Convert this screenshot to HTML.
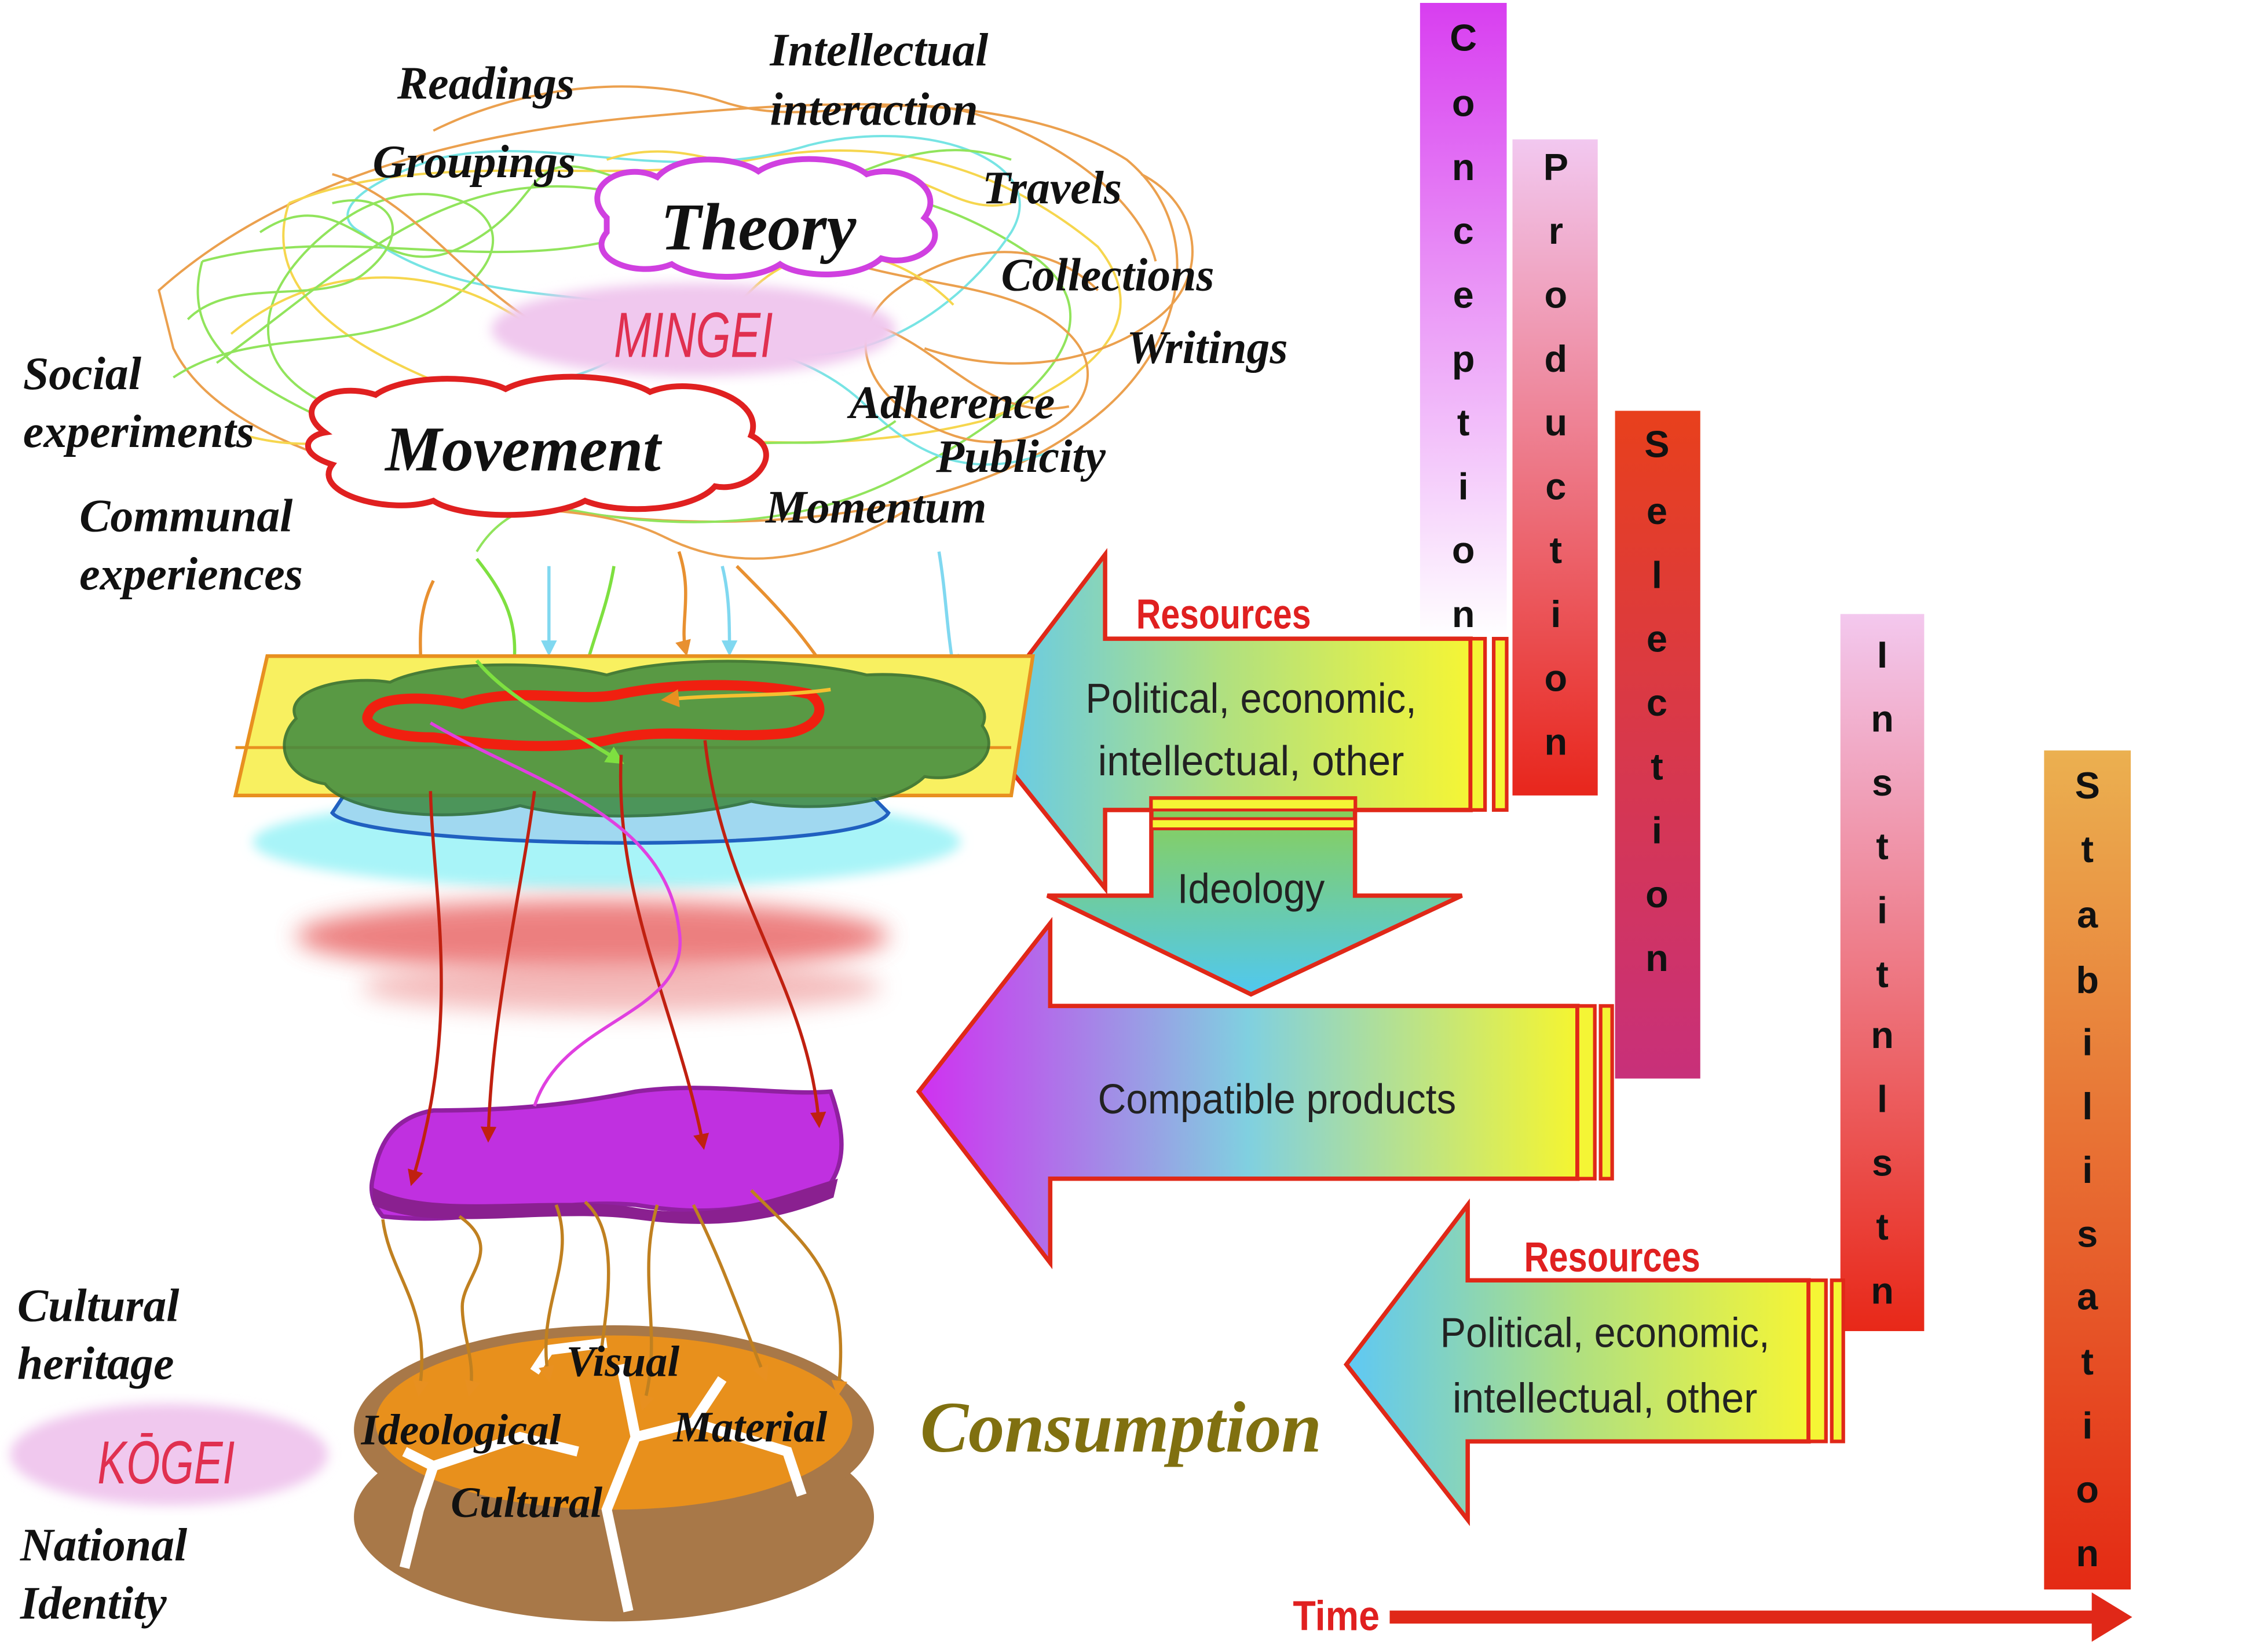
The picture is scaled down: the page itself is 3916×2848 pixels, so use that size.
<!DOCTYPE html>
<html><head><meta charset="utf-8"><style>
html,body{margin:0;padding:0;background:#fff;}
svg{display:block;}
.hw{font-family:"Liberation Serif",serif;font-style:italic;font-weight:bold;fill:#111;}
.vl{font-family:"Liberation Sans",sans-serif;font-weight:bold;font-size:26px;fill:#111;text-anchor:middle;}
.ar{font-family:"Liberation Sans",sans-serif;font-size:29px;fill:#222;text-anchor:middle;}
.rs{font-family:"Liberation Sans",sans-serif;font-weight:bold;font-size:29px;fill:#e02020;text-anchor:middle;}
</style></head><body>
<svg width="3916" height="2848" viewBox="0 0 1570 1136" preserveAspectRatio="none" xmlns="http://www.w3.org/2000/svg">
<defs>
<linearGradient id="gC" x1="0" y1="0" x2="0" y2="1"><stop offset="0" stop-color="#d83ef0"/><stop offset="1" stop-color="#fff"/></linearGradient>
<linearGradient id="gP" x1="0" y1="0" x2="0" y2="1"><stop offset="0" stop-color="#f2c8f0"/><stop offset="1" stop-color="#e8261c"/></linearGradient>
<linearGradient id="gS" x1="0" y1="0" x2="0" y2="1"><stop offset="0" stop-color="#e8401c"/><stop offset="1" stop-color="#c8307a"/></linearGradient>
<linearGradient id="gI" x1="0" y1="0" x2="0" y2="1"><stop offset="0" stop-color="#f3c8ee"/><stop offset="1" stop-color="#e82818"/></linearGradient>
<linearGradient id="gT" x1="0" y1="0" x2="0" y2="1"><stop offset="0" stop-color="#ebb050"/><stop offset="1" stop-color="#e42a14"/></linearGradient>
<linearGradient id="gR" x1="0" y1="0" x2="1" y2="0"><stop offset="0" stop-color="#5ec8f5"/><stop offset="0.5" stop-color="#b0e080"/><stop offset="1" stop-color="#f5f535"/></linearGradient>
<linearGradient id="gId" x1="0" y1="0" x2="0" y2="1"><stop offset="0" stop-color="#8cd050"/><stop offset="1" stop-color="#50c8f0"/></linearGradient>
<linearGradient id="gCP" x1="0" y1="0" x2="1" y2="0"><stop offset="0" stop-color="#d030f0"/><stop offset="0.5" stop-color="#80d0e0"/><stop offset="1" stop-color="#f5f530"/></linearGradient>
<filter id="bl" x="-20%" y="-50%" width="140%" height="200%"><feGaussianBlur stdDeviation="8"/></filter>
<filter id="bl2"><feGaussianBlur stdDeviation="4"/></filter>
<marker id="ma" viewBox="0 0 10 10" refX="8" refY="5" markerWidth="5" markerHeight="5" orient="auto"><path d="M0 0L10 5L0 10z" fill="context-stroke"/></marker>
<marker id="mr" viewBox="0 0 10 10" refX="8" refY="5" markerWidth="5" markerHeight="5" orient="auto"><path d="M0 0L10 5L0 10z" fill="#c02010"/></marker>
<marker id="mo" viewBox="0 0 10 10" refX="8" refY="5" markerWidth="5" markerHeight="5" orient="auto"><path d="M0 0L10 5L0 10z" fill="#e89020"/></marker>
</defs>

<rect x="983" y="2" width="60" height="438" fill="url(#gC)"/>
<rect x="1047" y="96" width="59" height="452" fill="url(#gP)"/>
<rect x="1118" y="283" width="59" height="460" fill="url(#gS)"/>
<rect x="1274" y="423" width="58" height="494" fill="url(#gI)"/>
<rect x="1415" y="517" width="60" height="578" fill="url(#gT)"/>
<g class="vl">
<text x="1013" y="35">C</text><text x="1013" y="80">o</text><text x="1013" y="124">n</text><text x="1013" y="168">c</text><text x="1013" y="212">e</text><text x="1013" y="256">p</text><text x="1013" y="300">t</text><text x="1013" y="344">i</text><text x="1013" y="388">o</text><text x="1013" y="432">n</text>
<text x="1077" y="124">P</text><text x="1077" y="168">r</text><text x="1077" y="212">o</text><text x="1077" y="256">d</text><text x="1077" y="300">u</text><text x="1077" y="344">c</text><text x="1077" y="388">t</text><text x="1077" y="432">i</text><text x="1077" y="476">o</text><text x="1077" y="520">n</text>
<text x="1147" y="315">S</text><text x="1147" y="361">e</text><text x="1147" y="405">l</text><text x="1147" y="449">e</text><text x="1147" y="493">c</text><text x="1147" y="537">t</text><text x="1147" y="581">i</text><text x="1147" y="625">o</text><text x="1147" y="669">n</text>
<text x="1303" y="460">I</text><text x="1303" y="504">n</text><text x="1303" y="548">s</text><text x="1303" y="592">t</text><text x="1303" y="636">i</text><text x="1303" y="680">t</text><text x="1303" y="722">n</text><text x="1303" y="766">l</text><text x="1303" y="810">s</text><text x="1303" y="854">t</text><text x="1303" y="898">n</text>
<text x="1445" y="550">S</text><text x="1445" y="594">t</text><text x="1445" y="639">a</text><text x="1445" y="684">b</text><text x="1445" y="727">i</text><text x="1445" y="771">l</text><text x="1445" y="815">i</text><text x="1445" y="859">s</text><text x="1445" y="902">a</text><text x="1445" y="947">t</text><text x="1445" y="991">i</text><text x="1445" y="1035">o</text><text x="1445" y="1079">n</text>
</g>

<text x="925" y="1123" class="rs" textLength="60" lengthAdjust="spacingAndGlyphs">Time</text>
<path d="M962 1114 H1450" stroke="#e02818" stroke-width="9"/>
<path d="M1448 1097 L1476 1114 L1448 1131z" fill="#e02818"/>

<path d="M675 500 L765 382 L765 440 L1018 440 L1018 558 L765 558 L765 612 Z" fill="url(#gR)" stroke="#e02818" stroke-width="3"/>
<rect x="1018" y="440" width="10" height="118" fill="#f5f535" stroke="#e02818" stroke-width="2.5"/>
<rect x="1034" y="440" width="9" height="118" fill="#f5f535" stroke="#e02818" stroke-width="2.5"/>
<text x="847" y="433" class="rs" textLength="121" lengthAdjust="spacingAndGlyphs">Resources</text>
<text x="866" y="491" class="ar" textLength="229" lengthAdjust="spacingAndGlyphs">Political, economic,</text>
<text x="866" y="534" class="ar" textLength="212" lengthAdjust="spacingAndGlyphs">intellectual, other</text>

<path d="M797 550 L938 550 L938 617 L1012 617 L866 685 L725 617 L797 617 Z" fill="url(#gId)" stroke="#e02818" stroke-width="3"/>
<rect x="797" y="550" width="141" height="8" fill="#f5f535" stroke="#e02818" stroke-width="2"/>
<rect x="797" y="564" width="141" height="7" fill="#f5f535" stroke="#e02818" stroke-width="2"/>
<text x="866" y="622" class="ar" textLength="102" lengthAdjust="spacingAndGlyphs">Ideology</text>

<path d="M636 752 L727 636 L727 693 L1092 693 L1092 812 L727 812 L727 870 Z" fill="url(#gCP)" stroke="#e02818" stroke-width="3"/>
<rect x="1092" y="693" width="12" height="119" fill="#f5f535" stroke="#e02818" stroke-width="2.5"/>
<rect x="1108" y="693" width="8" height="119" fill="#f5f535" stroke="#e02818" stroke-width="2.5"/>
<text x="884" y="767" class="ar" textLength="248" lengthAdjust="spacingAndGlyphs">Compatible products</text>

<path d="M932 940 L1016 830 L1016 882 L1252 882 L1252 993 L1016 993 L1016 1047 Z" fill="url(#gR)" stroke="#e02818" stroke-width="3"/>
<rect x="1252" y="882" width="12" height="111" fill="#f5f535" stroke="#e02818" stroke-width="2.5"/>
<rect x="1268" y="882" width="8" height="111" fill="#f5f535" stroke="#e02818" stroke-width="2.5"/>
<text x="1116" y="876" class="rs" textLength="122" lengthAdjust="spacingAndGlyphs">Resources</text>
<text x="1111" y="928" class="ar" textLength="228" lengthAdjust="spacingAndGlyphs">Political, economic,</text>
<text x="1111" y="973" class="ar" textLength="211" lengthAdjust="spacingAndGlyphs">intellectual, other</text>

<g fill="none" stroke-width="1.6" opacity="0.85">
<path d="M110 200 C200 120 330 90 450 80 C560 70 700 60 780 110 C840 160 820 250 740 300 C650 360 500 370 380 350 C250 330 150 300 120 240 Z" stroke="#e89030"/>
<path d="M140 180 C250 150 360 200 470 150 C560 110 650 130 720 180 C780 230 700 290 620 330 C520 380 380 360 300 320 C200 280 120 250 140 180" stroke="#7ee040"/>
<path d="M200 140 C300 100 420 130 520 110 C620 90 700 120 760 170 C800 220 760 260 680 290 C560 320 420 300 320 270 C240 240 180 200 200 140" stroke="#f5d030"/>
<path d="M250 160 C330 220 420 190 500 230 C580 270 660 220 700 160 C730 110 640 80 560 100 C460 130 380 90 300 110 C240 130 230 150 250 160" stroke="#60e0e0"/>
<path d="M120 260 C180 220 260 250 320 200 C380 150 300 110 240 150 C180 190 160 250 230 280 C300 310 380 280 430 320" stroke="#7ee040"/>
<path d="M560 170 C620 200 700 190 740 230 C780 270 720 320 660 300 C600 280 580 230 620 200 C660 170 720 160 760 200" stroke="#e89030"/>
<path d="M300 90 C360 60 440 50 500 70 C560 90 620 60 680 80 C740 100 790 140 800 180" stroke="#e89030"/>
<path d="M160 230 C220 180 300 180 360 220 C420 260 480 240 520 200 C560 160 620 170 660 210" stroke="#f5d030"/>
<path d="M220 300 C280 260 360 280 420 250 C480 220 560 240 600 280 C640 320 680 330 730 310" stroke="#60e0e0"/>
<path d="M180 160 C240 120 260 200 320 170 C380 140 360 100 420 120 C480 140 470 190 540 180" stroke="#7ee040"/>
<path d="M640 240 C700 260 760 250 800 220 C840 190 830 140 790 120" stroke="#e89030"/>
<path d="M250 330 C320 360 400 340 460 370 C520 400 580 380 630 350" stroke="#e89030"/>
<path d="M330 380 C360 330 420 350 470 320 C520 290 580 320 620 290" stroke="#7ee040"/>
<path d="M130 220 C160 190 220 210 250 190 C290 160 270 130 230 140" stroke="#7ee040"/>
<path d="M420 110 C480 90 520 130 580 120 C640 110 660 150 700 140" stroke="#f5d030"/>
<path d="M150 250 C220 200 280 140 360 130 C440 120 470 160 540 140 C600 120 640 90 700 110" stroke="#7ee040"/>
<path d="M230 120 C300 140 340 230 420 240 C500 250 560 200 620 230 C660 250 690 290 740 280" stroke="#e89030"/>
<path d="M170 300 C240 320 300 280 360 300 C420 320 460 290 520 310" stroke="#f5d030"/>
</g>
<g fill="none" stroke-width="2.2">
<path d="M330 385 C350 410 360 430 355 465" stroke="#7ee040" marker-end="url(#ma)"/>
<path d="M425 390 C420 420 410 440 400 480" stroke="#7ee040" marker-end="url(#ma)"/>
<path d="M470 380 C480 410 470 430 475 450" stroke="#e89030" marker-end="url(#ma)"/>
<path d="M510 390 C540 420 560 440 590 490" stroke="#e89030" marker-end="url(#ma)"/>
<path d="M380 390 C380 410 380 430 380 450" stroke="#80d8f0" marker-end="url(#ma)"/>
<path d="M500 390 C505 410 505 430 505 450" stroke="#80d8f0" marker-end="url(#ma)"/>
<path d="M650 380 C655 410 655 430 660 460" stroke="#80d8f0" marker-end="url(#ma)"/>
<path d="M300 400 C290 420 290 440 292 465" stroke="#e89030" marker-end="url(#ma)"/>
</g>

<ellipse cx="480" cy="227" rx="140" ry="32" fill="#f0c8ee" filter="url(#bl2)"/>
<text x="480" y="246" font-family="Liberation Sans,sans-serif" font-style="italic" font-size="44" fill="#e03050" text-anchor="middle" textLength="110" lengthAdjust="spacingAndGlyphs">MINGEI</text>

<path d="M420 150 C400 130 430 110 455 122 C470 105 510 108 525 118 C545 105 585 108 600 120 C625 112 655 130 640 150 C660 165 635 185 610 178 C595 192 555 192 540 182 C520 195 480 192 465 182 C440 192 405 178 420 160 Z" fill="#fff" stroke="#d040e0" stroke-width="4"/>
<text x="525" y="172" class="hw" font-size="46" text-anchor="middle">Theory</text>

<path d="M225 298 C200 280 230 262 260 272 C280 258 330 258 350 268 C375 255 430 258 450 270 C480 258 530 275 520 300 C545 312 520 340 495 335 C480 352 430 355 405 345 C380 358 320 358 300 345 C270 355 215 340 230 320 C205 312 212 300 225 298 Z" fill="#fff" stroke="#e02020" stroke-width="4"/>
<text x="362" y="324" class="hw" font-size="44" text-anchor="middle">Movement</text>

<g class="hw" font-size="32">
<text x="275" y="68">Readings</text>
<text x="258" y="122">Groupings</text>
<text x="533" y="45">Intellectual</text>
<text x="533" y="86">interaction</text>
<text x="680" y="140">Travels</text>
<text x="693" y="200">Collections</text>
<text x="780" y="250">Writings</text>
<text x="588" y="288">Adherence</text>
<text x="648" y="325">Publicity</text>
<text x="530" y="360">Momentum</text>
<text x="16" y="268">Social</text>
<text x="16" y="308">experiments</text>
<text x="55" y="366">Communal</text>
<text x="55" y="406">experiences</text>
<text x="12" y="910">Cultural</text>
<text x="12" y="950">heritage</text>
<text x="14" y="1075">National</text>
<text x="14" y="1115">Identity</text>
</g>

<ellipse cx="420" cy="580" rx="245" ry="32" fill="#a8f4f8" filter="url(#bl2)"/>
<path d="M230 560 C250 585 600 590 615 560 L600 545 L240 545 Z" fill="#a0d8f0" stroke="#2060c0" stroke-width="2.5"/>
<path d="M185 452 L715 452 L700 548 L163 548 Z" fill="#f8f060" stroke="#e89020" stroke-width="2.5"/>
<path d="M163 515 L700 515" stroke="#e89020" stroke-width="2"/>
<path d="M205 495 C195 475 240 465 270 470 C300 455 380 455 420 465 C470 450 560 455 600 465 C650 462 690 480 680 500 C695 520 670 540 640 535 C620 555 560 560 520 552 C470 565 400 565 360 555 C310 568 240 560 225 540 C195 535 190 510 205 495 Z" fill="#3e8a40" opacity="0.85" stroke="#2a6a30" stroke-width="2"/>
<path d="M255 492 C260 478 300 480 320 485 C360 472 400 485 430 478 C470 470 520 470 560 478 C575 488 565 502 545 505 C500 510 460 500 420 510 C380 518 330 512 300 508 C270 508 250 500 255 492 Z" fill="none" stroke="#f02010" stroke-width="7"/>
<path d="M575 475 C540 480 500 478 460 482" fill="none" stroke="#f5c030" stroke-width="2.5" marker-end="url(#mo)"/>
<path d="M330 455 C350 480 390 500 430 525" fill="none" stroke="#7ee040" stroke-width="2.5" marker-end="url(#ma)"/>

<ellipse cx="410" cy="645" rx="205" ry="25" fill="#e86060" opacity="0.8" filter="url(#bl)"/>
<ellipse cx="430" cy="680" rx="180" ry="18" fill="#f0a0a0" opacity="0.7" filter="url(#bl)"/>

<path d="M258 812 C262 790 270 770 300 765 C360 765 400 760 440 752 C490 745 540 755 575 752 C585 780 585 800 575 815 C530 830 500 840 440 830 C380 825 330 845 265 838 C258 830 256 820 258 812 Z" fill="#c030e0" stroke="#9020a0" stroke-width="3"/>
<path d="M258 818 C300 840 380 822 440 832 C500 842 545 822 580 812 L577 825 C540 840 500 848 440 840 C380 832 300 850 258 830 Z" fill="#8a2090"/>

<g fill="none" stroke-width="2.2">
<path d="M298 545 C300 620 320 700 285 815" stroke="#c02010" marker-end="url(#mr)"/>
<path d="M370 545 C360 620 340 700 338 785" stroke="#c02010" marker-end="url(#mr)"/>
<path d="M430 520 C425 620 470 700 487 790" stroke="#c02010" marker-end="url(#mr)"/>
<path d="M488 510 C500 620 560 680 567 775" stroke="#c02010" marker-end="url(#mr)"/>
<path d="M298 498 C370 540 460 560 470 640 C480 700 390 700 370 762" stroke="#e040e0"/>
</g>

<ellipse cx="425" cy="1045" rx="180" ry="72" fill="#a87848"/>
<ellipse cx="425" cy="985" rx="180" ry="72" fill="#a87848"/>
<ellipse cx="425" cy="980" rx="165" ry="60" fill="#e8901c"/>
<path d="M280 1000 L300 1010 L290 1040 L280 1080 M300 1010 L360 990 L400 1000 M430 940 L440 990 L420 1040 L435 1110 M440 990 L480 980 L500 950 M480 980 L545 1000 L555 1030 M370 945 L380 930 L420 925" fill="none" stroke="#fff" stroke-width="7"/>
<g fill="none" stroke="#c08020" stroke-width="2.2">
<path d="M265 840 C270 880 300 900 290 960" marker-end="url(#mo)"/>
<path d="M318 838 C350 860 320 880 320 900 C320 920 330 940 325 960" marker-end="url(#mo)"/>
<path d="M385 830 C400 870 370 900 380 950" marker-end="url(#mo)"/>
<path d="M405 828 C430 850 420 900 415 940" marker-end="url(#mo)"/>
<path d="M455 830 C440 880 460 920 445 970" marker-end="url(#mo)"/>
<path d="M480 830 C500 870 510 900 530 950" marker-end="url(#mo)"/>
<path d="M520 820 C560 860 590 880 580 960" marker-end="url(#mo)"/>
</g>
<g class="hw" font-size="30">
<text x="392" y="948">Visual</text>
<text x="250" y="995">Ideological</text>
<text x="466" y="993">Material</text>
<text x="312" y="1045">Cultural</text>
</g>

<ellipse cx="117" cy="1002" rx="110" ry="35" fill="#f0c8ee" filter="url(#bl2)"/>
<text x="115" y="1022" font-family="Liberation Sans,sans-serif" font-style="italic" font-size="42" fill="#e03050" text-anchor="middle" textLength="95" lengthAdjust="spacingAndGlyphs">KŌGEI</text>

<text x="637" y="1000" class="hw" font-size="50" style="fill:#807010">Consumption</text>
</svg>
</body></html>
